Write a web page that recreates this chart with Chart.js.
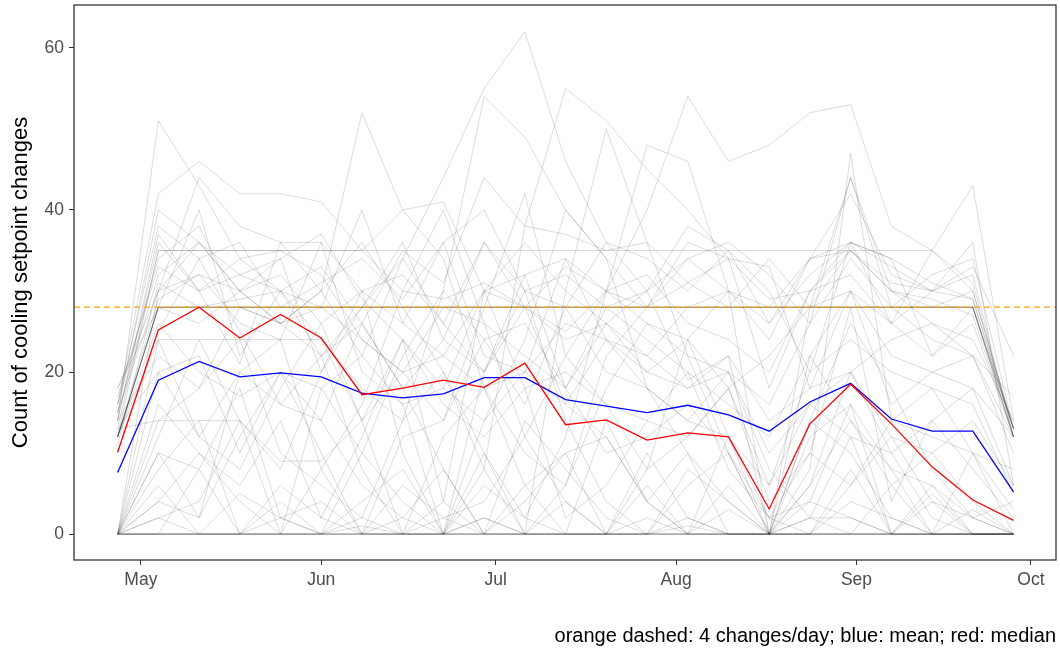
<!DOCTYPE html>
<html>
<head>
<meta charset="utf-8">
<title>Cooling setpoint changes</title>
<script src="https://cdn.jsdelivr.net/npm/chart.js@4.4.1/dist/chart.umd.min.js"></script>
<style>
  body { margin: 0; background: #fff; }
  canvas { display: block; }
</style>
</head>
<body>
<canvas id="setpoint-chart" width="1060" height="650"></canvas>
<script>
// Week start, as days counted from May 1 (Apr 27 ... Sep 28)
var weekDays = [-4, 3, 10, 17, 24, 31, 38, 45, 52, 59, 66, 73, 80, 87, 94, 101, 108, 115, 122, 129, 136, 143, 150];

// Month tick positions (days from May 1) and their labels
var monthDays = [0, 31, 61, 92, 123, 153];
var monthLabels = ['May', 'Jun', 'Jul', 'Aug', 'Sep', 'Oct'];
var yTicks = [0, 20, 40, 60];

// 4 changes per day over a week
var targetWeekly = 28;

// Weekly mean and median over all households
var meanCounts = [7.6, 19.0, 21.3, 19.4, 19.9, 19.4, 17.4, 16.8, 17.3, 19.3, 19.3, 16.6, 15.8, 15.0, 15.9, 14.7, 12.7, 16.3, 18.6, 14.2, 12.7, 12.7, 5.2];
var medianCounts = [10.1, 25.2, 28.0, 24.2, 27.1, 24.2, 17.2, 18.0, 19.0, 18.1, 21.1, 13.5, 14.1, 11.6, 12.5, 12.0, 3.1, 13.6, 18.5, 13.6, 8.3, 4.2, 1.7];

// Weekly counts per household
var householdCounts = [
    [12, 28, 28, 28, 28, 28, 28, 28, 28, 28, 28, 28, 28, 28, 28, 28, 28, 28, 28, 28, 28, 28, 12],
    [12, 28, 28, 28, 28, 28, 28, 28, 28, 28, 28, 28, 28, 28, 28, 28, 28, 28, 28, 28, 28, 28, 12],
    [12, 28, 28, 28, 28, 28, 28, 28, 28, 28, 28, 28, 28, 28, 28, 28, 28, 28, 28, 28, 28, 28, 12],
    [12, 28, 28, 28, 28, 28, 28, 28, 28, 28, 28, 28, 28, 28, 28, 28, 28, 28, 28, 28, 28, 28, 13],
    [12, 28, 28, 28, 28, 28, 28, 28, 28, 28, 28, 28, 28, 28, 28, 28, 28, 28, 28, 28, 28, 28, 13],
    [12, 35, 35, 35, 35, 35, 35, 35, 35, 35, 35, 35, 35, 35, 35, 35, 35, 35, 35, 35, 35, 31, 12],
    [13, 35, 35, 35, 35, 35, 35, 30, 29, 31, 28, 33, 30, 28, 31, 34, 29, 30, 35, 31, 30, 32, 12],
    [0, 0, 0, 0, 0, 0, 0, 0, 0, 0, 0, 0, 0, 0, 0, 0, 0, 0, 0, 0, 0, 0, 0],
    [0, 0, 0, 0, 0, 0, 0, 0, 0, 0, 0, 0, 0, 0, 0, 0, 0, 0, 0, 0, 0, 0, 0],
    [0, 0, 0, 0, 0, 0, 0, 0, 0, 0, 0, 0, 0, 0, 0, 0, 0, 0, 0, 0, 0, 0, 0],
    [0, 0, 0, 0, 0, 0, 0, 0, 0, 2, 0, 0, 0, 0, 0, 0, 0, 2, 2, 0, 0, 0, 0],
    [0, 0, 0, 0, 0, 0, 1, 0, 0, 0, 0, 0, 0, 0, 1, 0, 0, 0, 0, 0, 0, 0, 0],
    [14, 51, 43, 34, 30, 22, 26, 18, 8, 0, 4, 10, 0, 6, 0, 3, 0, 12, 16, 0, 5, 0, 0],
    [16, 42, 46, 42, 42, 41, 35, 40, 41, 30, 32, 18, 26, 30, 19, 22, 0, 28, 35, 30, 26, 24, 14],
    [0, 30, 36, 30, 26, 30, 52, 40, 34, 18, 10, 6, 22, 28, 36, 34, 18, 30, 36, 34, 22, 28, 13],
    [14, 37, 30, 21, 36, 30, 22, 34, 44, 55, 62, 46, 36, 30, 38, 35, 30, 20, 36, 26, 30, 33, 22],
    [0, 10, 8, 18, 2, 0, 10, 22, 30, 54, 49, 40, 34, 28, 34, 30, 26, 34, 42, 32, 30, 36, 6],
    [15, 30, 32, 26, 24, 36, 20, 16, 0, 8, 38, 55, 51, 45, 40, 34, 33, 18, 30, 16, 20, 22, 12],
    [0, 0, 0, 5, 2, 0, 4, 8, 0, 10, 0, 30, 50, 36, 22, 10, 0, 0, 8, 0, 0, 0, 0],
    [18, 28, 40, 22, 30, 24, 14, 20, 14, 28, 42, 22, 30, 40, 54, 46, 48, 52, 53, 38, 35, 30, 13],
    [0, 12, 24, 14, 0, 18, 10, 4, 0, 0, 14, 8, 2, 0, 6, 10, 0, 4, 2, 0, 6, 0, 0],
    [10, 25, 34, 25, 16, 22, 8, 0, 12, 18, 6, 0, 14, 4, 10, 0, 0, 6, 14, 8, 0, 3, 0],
    [14, 22, 18, 28, 26, 30, 36, 28, 20, 10, 2, 12, 30, 48, 46, 30, 0, 8, 47, 14, 12, 10, 8],
    [12, 24, 24, 24, 24, 24, 18, 14, 30, 24, 16, 28, 20, 18, 14, 12, 6, 20, 24, 20, 18, 16, 5],
    [0, 4, 2, 12, 20, 10, 0, 2, 8, 0, 0, 4, 0, 10, 2, 0, 0, 2, 12, 0, 4, 0, 0],
    [17, 33, 30, 32, 34, 37, 29, 24, 18, 30, 36, 30, 26, 22, 28, 30, 24, 34, 35, 30, 28, 30, 13],
    [0, 8, 14, 0, 6, 2, 12, 24, 4, 30, 18, 2, 6, 14, 20, 8, 2, 10, 28, 4, 14, 8, 2],
    [11, 31, 28, 29, 30, 33, 26, 35, 31, 44, 38, 37, 35, 36, 31, 28, 34, 28, 44, 30, 29, 27, 12],
    [0, 16, 10, 4, 0, 8, 16, 30, 40, 26, 12, 4, 0, 8, 24, 12, 0, 22, 14, 6, 0, 10, 0],
    [13, 20, 22, 10, 20, 14, 26, 18, 24, 36, 28, 16, 12, 4, 0, 6, 0, 14, 26, 18, 8, 2, 4],
    [0, 2, 4, 14, 8, 20, 30, 10, 0, 14, 24, 40, 34, 18, 10, 4, 0, 6, 20, 10, 2, 0, 0],
    [12, 29, 32, 30, 34, 20, 28, 36, 24, 20, 28, 25, 30, 32, 26, 24, 20, 30, 32, 26, 35, 43, 14],
    [0, 20, 12, 8, 18, 26, 14, 0, 2, 4, 12, 22, 16, 8, 12, 18, 4, 10, 6, 14, 18, 10, 3],
    [15, 40, 36, 32, 30, 28, 40, 26, 36, 22, 20, 34, 24, 18, 14, 20, 10, 16, 20, 12, 10, 14, 6],
    [0, 6, 0, 0, 2, 4, 0, 0, 0, 6, 2, 0, 0, 0, 2, 0, 0, 0, 4, 2, 0, 0, 0],
    [14, 36, 30, 34, 35, 32, 24, 20, 28, 26, 22, 18, 28, 24, 20, 16, 12, 22, 30, 22, 20, 18, 12],
    [0, 14, 18, 24, 10, 6, 2, 14, 20, 8, 0, 6, 18, 26, 22, 20, 8, 2, 0, 6, 10, 4, 0],
    [12, 26, 20, 17, 20, 18, 22, 16, 18, 14, 20, 16, 24, 20, 18, 22, 14, 18, 20, 24, 26, 22, 10],
    [0, 0, 8, 0, 0, 0, 2, 0, 4, 0, 0, 0, 0, 2, 0, 0, 0, 0, 0, 0, 0, 0, 0],
    [16, 38, 34, 36, 28, 31, 34, 29, 36, 40, 30, 28, 36, 34, 30, 35, 26, 32, 36, 34, 31, 29, 13],
    [0, 10, 2, 20, 16, 14, 6, 2, 0, 20, 30, 14, 4, 0, 8, 4, 0, 14, 10, 2, 0, 0, 0],
    [13, 14, 14, 14, 9, 9, 14, 24, 16, 12, 18, 20, 16, 14, 12, 18, 6, 16, 12, 10, 14, 18, 6],
    [0, 24, 12, 20, 24, 8, 0, 12, 14, 24, 26, 18, 10, 12, 16, 10, 2, 4, 16, 8, 6, 2, 0],
    [15, 32, 36, 30, 32, 26, 30, 32, 26, 36, 30, 32, 28, 30, 34, 36, 32, 26, 34, 28, 32, 34, 13],
    [0, 4, 10, 6, 14, 2, 0, 6, 2, 0, 6, 10, 12, 4, 0, 12, 2, 0, 6, 12, 4, 2, 0],
    [12, 28, 26, 30, 26, 28, 24, 20, 22, 30, 28, 24, 26, 20, 24, 18, 22, 28, 30, 26, 22, 26, 12],
    [0, 2, 0, 0, 4, 0, 0, 0, 0, 2, 0, 0, 0, 0, 0, 0, 0, 0, 0, 0, 0, 0, 0],
    [16, 34, 38, 28, 26, 22, 28, 34, 26, 20, 32, 34, 30, 26, 24, 30, 28, 34, 36, 33, 30, 29, 13],
    [18, 30, 44, 38, 36, 36, 30, 26, 22, 18, 20, 26, 24, 22, 18, 20, 16, 26, 44, 28, 24, 22, 17]
];

var captionText = 'orange dashed: 4 changes/day; blue: mean; red: median';
var fontFamily = '"Liberation Sans", Arial, sans-serif';

// Turn a list of weekly values into {x, y} points
function toPoints(values) {
    var points = [];
    for (var i = 0; i < values.length; i++) {
        points.push({ x: weekDays[i], y: values[i] });
    }
    return points;
}

var xMin = -11.5;
var xMax = 157.3;

// Highlight lines first so they are drawn on top of the households
var datasets = [
    {
        data: toPoints(medianCounts),
        borderColor: '#ff0000',
        borderWidth: 1.3
    },
    {
        data: toPoints(meanCounts),
        borderColor: '#0000ff',
        borderWidth: 1.3
    },
    {
        data: [{ x: xMin, y: targetWeekly }, { x: xMax, y: targetWeekly }],
        borderColor: '#ffa500',
        borderWidth: 1.3,
        borderDash: [6, 4]
    }
];

for (var h = 0; h < householdCounts.length; h++) {
    datasets.push({
        data: toPoints(householdCounts[h]),
        borderColor: 'rgba(0, 0, 0, 0.14)',
        borderWidth: 1
    });
}

// Panel border drawn round the whole plot area, plus caption text
var framePlugin = {
    id: 'frameAndCaption',
    afterDraw: function(chart) {
        var ctx = chart.ctx;
        var area = chart.chartArea;
        ctx.save();
        ctx.strokeStyle = '#333333';
        ctx.lineWidth = 1.3;
        ctx.strokeRect(area.left, area.top, area.right - area.left, area.bottom - area.top);

        ctx.fillStyle = '#000000';
        ctx.font = '20px ' + fontFamily;
        ctx.textAlign = 'right';
        ctx.textBaseline = 'alphabetic';
        ctx.fillText(captionText, 1056, 642);
        ctx.restore();
    }
};

var ctx = document.getElementById('setpoint-chart').getContext('2d');
var chart = new Chart(ctx, {
    type: 'line',
    data: { datasets: datasets },
    options: {
        responsive: false,
        animation: false,
        layout: { padding: { left: 0, right: 4, top: 5, bottom: 0 } },
        elements: {
            point: { radius: 0 },
            line: { tension: 0, fill: false }
        },
        plugins: {
            legend: { display: false },
            tooltip: { enabled: false }
        },
        scales: {
            x: {
                type: 'linear',
                min: xMin,
                max: xMax,
                afterBuildTicks: function(scale) {
                    scale.ticks = monthDays.map(function(v) { return { value: v }; });
                },
                afterFit: function(scale) {
                    scale.height = 90;
                    scale.paddingLeft = 0;
                    scale.paddingRight = 0;
                },
                ticks: {
                    autoSkip: false,
                    maxRotation: 0,
                    padding: 5,
                    color: '#4d4d4d',
                    font: { family: fontFamily, size: 17.5 },
                    callback: function(value, index) { return monthLabels[index]; }
                },
                grid: {
                    drawOnChartArea: false,
                    tickLength: 5,
                    color: '#333333'
                },
                border: { display: false }
            },
            y: {
                min: -3.2,
                max: 65.3,
                afterBuildTicks: function(scale) {
                    scale.ticks = yTicks.map(function(v) { return { value: v }; });
                },
                afterFit: function(scale) {
                    scale.width = 74;
                    // tick labels sit well inside the range, no extra room needed
                    scale.paddingTop = 0;
                    scale.paddingBottom = 0;
                },
                ticks: {
                    padding: 5,
                    color: '#4d4d4d',
                    font: { family: fontFamily, size: 17.5 },
                    callback: function(value) { return String(value); }
                },
                grid: {
                    drawOnChartArea: false,
                    tickLength: 5,
                    color: '#333333'
                },
                border: { display: false },
                title: {
                    display: true,
                    text: 'Count of cooling setpoint changes',
                    color: '#000000',
                    font: { family: fontFamily, size: 22 },
                    padding: { top: 8, bottom: 0 }
                }
            }
        }
    },
    plugins: [framePlugin]
});
</script>
</body>
</html>
